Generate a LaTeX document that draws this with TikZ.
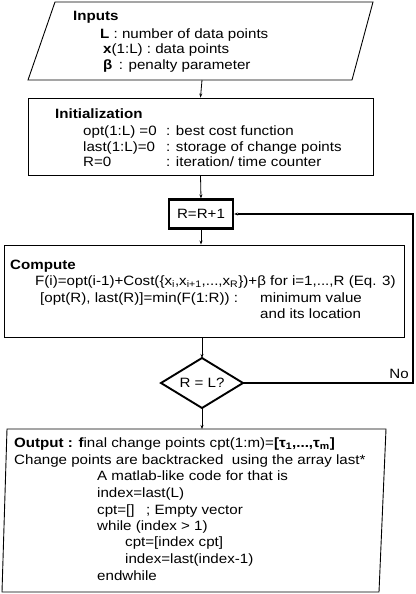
\documentclass[tikz,border=0pt]{standalone}
\usepackage{fontspec}
\setmainfont{Liberation Sans}[FakeStretch=1.12]
\usetikzlibrary{arrows.meta}
\begin{document}
\begin{tikzpicture}[x=1pt,y=-1pt,
  txt/.style={anchor=base west,inner sep=0pt,font=\fontsize{13.5}{15}\selectfont},
  thinbox/.style={draw,line width=0.9pt},
  arr/.style={-{Stealth[length=4pt,width=3pt]},line width=0.8pt},
  thickline/.style={line width=1.9pt}]
\useasboundingbox (0,0) rectangle (415,594);
% Inputs parallelogram
\draw[thinbox] (55,2) -- (373,2) -- (352,80) -- (28,80) -- cycle;
\coordinate (inb) at (202,80);
\node[txt] (t1) at (73,21) {\textbf{Inputs}};
\node[txt] (t2) at (100,38) {\textbf{L} : number of data points};
\node[txt] (t3) at (103,54) {\textbf{x}(1:L) : data points};
\node[txt] (t4) at (103,70) {\textbf{β} \,: penalty parameter};
% Init
\node[thinbox,minimum width=345pt,minimum height=77pt,inner sep=0pt] (init) at (200.5,136.5) {};
\node[txt] at (55,118) {\textbf{Initialization}};
\node[txt] at (83,135) {opt(1:L) =0};
\node[txt] at (166,135) {: best cost function};
\node[txt] at (83,151) {last(1:L)=0};
\node[txt] at (166,151) {: storage of change points};
\node[txt] at (83,166) {R=0};
\node[txt] at (166,166) {: iteration/ time counter};
% R=R+1
\node[draw,line width=2.2pt,minimum width=64pt,minimum height=29pt,inner sep=0pt,font=\fontsize{13.5}{15}\selectfont] (rr) at (201,214) {R=R+1};
% Compute
\node[thinbox,minimum width=400pt,minimum height=92pt,inner sep=0pt] (comp) at (204,291) {};
\node[txt] at (10,269) {\textbf{Compute}};
\node[txt] at (35,285) {F(i)=opt(i-1)+Cost(\{x\textsubscript{i},x\textsubscript{i+1},...,x\textsubscript{R}\})+β for i=1,...,R (Eq. 3)};
\node[txt] at (40,302) {[opt(R), last(R)]=min(F(1:R)) :};
\node[txt] at (260,302) {minimum value};
\node[txt] at (260,318) {and its location};
% Diamond
\draw[thickline] (202,358) -- (243,383) -- (202,408) -- (161,383) -- cycle;
\coordinate (dt) at (202,358);
\coordinate (db) at (202,408);
\coordinate (dr) at (243,383);
\node[font=\fontsize{13.5}{15}\selectfont,inner sep=0pt] (dtxt) at (202,383) {R = L?};
% Output box
\draw[thinbox] (7,429) -- (386,429) -- (379,592) -- (2,592) -- cycle;
\coordinate (ot) at (202,429);
\node[txt] at (14,447) {\textbf{Output : f}inal change points cpt(1:m)=\textbf{[τ\textsubscript{1},...,τ\textsubscript{m}]}};
\node[txt] at (14,464) {Change points are backtracked \ using the array last*};
\node[txt] at (97,480) {A matlab-like code for that is};
\node[txt] at (97,497) {index=last(L)};
\node[txt] at (97,514) {cpt=[]};
\node[txt] at (146,514) {; Empty vector};
\node[txt] at (97,530) {while (index > 1)};
\node[txt] at (125,546) {cpt=[index cpt]};
\node[txt] at (125,563) {index=last(index-1)};
\node[txt] at (97,580) {endwhile};
% connectors
\draw[arr] (inb) -- (init.north);
\draw[arr] (init.south) -- (rr.north);
\draw[arr] (rr.south) -- (comp.north -| rr.south);
\draw[arr] (comp.south -| dt) -- (dt);
\draw[arr] (db) -- (ot);
\coordinate (c1) at (413,383);
\coordinate (c2) at (413,214);
\draw[thickline] (dr) -- (c1) -- (c2) -- ([xshift=4pt]rr.east);
\draw[arr] ([xshift=5pt]rr.east) -- (rr.east);
\node[font=\fontsize{13.5}{15}\selectfont,anchor=base east,inner sep=0pt] (no) at (409,378) {No};
\end{tikzpicture}
\end{document}
